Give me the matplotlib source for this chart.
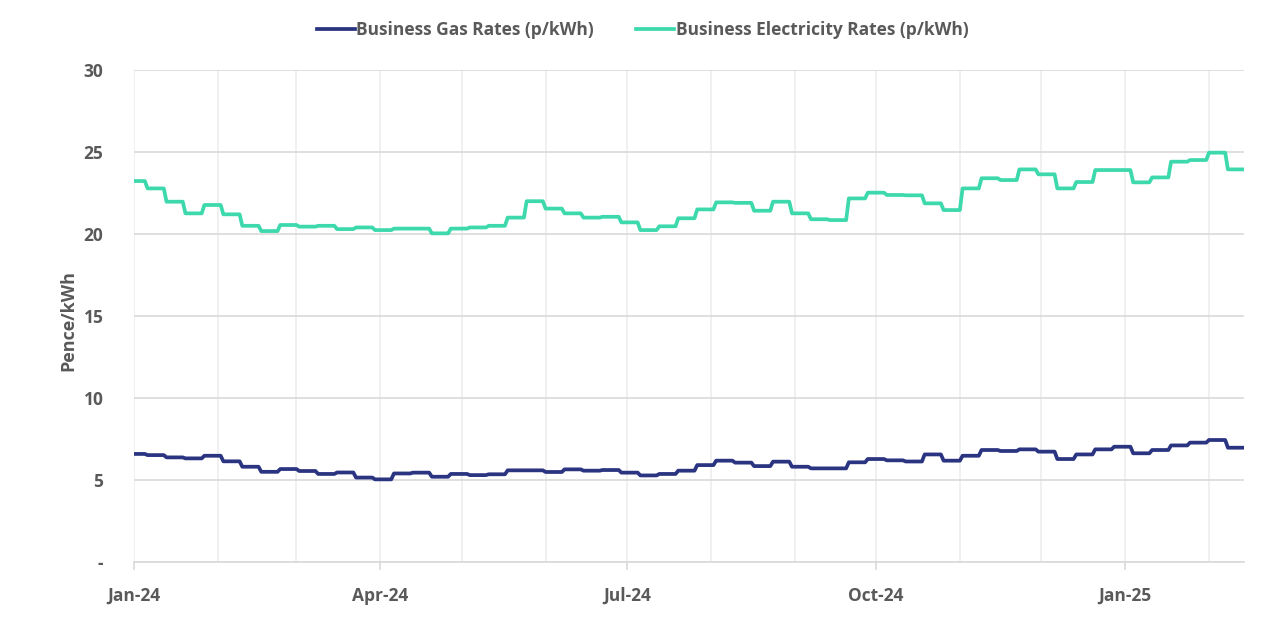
import numpy as np
import pandas as pd
import matplotlib
matplotlib.use("Agg")
import matplotlib.pyplot as plt
import matplotlib.dates as mdates
from matplotlib.ticker import FuncFormatter

# weekly price changes (Saturdays), held flat for the rest of the week
week_start = "2023-12-30"
n_weeks = 59
end_day = "2025-02-14"

gas = [6.59, 6.52, 6.38, 6.32, 6.48, 6.14, 5.81, 5.50, 5.67, 5.55,
       5.37, 5.46, 5.15, 5.04, 5.40, 5.45, 5.20, 5.37, 5.30, 5.35,
       5.59, 5.59, 5.49, 5.65, 5.57, 5.61, 5.45, 5.28, 5.37, 5.57,
       5.91, 6.18, 6.06, 5.85, 6.12, 5.81, 5.71, 5.71, 6.08, 6.28,
       6.20, 6.13, 6.56, 6.18, 6.48, 6.83, 6.77, 6.87, 6.73, 6.28,
       6.56, 6.87, 7.03, 6.63, 6.83, 7.11, 7.28, 7.44, 6.97]

elec = [23.23, 22.78, 21.97, 21.26, 21.77, 21.20, 20.50, 20.18, 20.55, 20.45,
        20.50, 20.30, 20.40, 20.24, 20.33, 20.33, 20.04, 20.33, 20.40, 20.50,
        21.00, 22.00, 21.55, 21.26, 21.00, 21.05, 20.71, 20.24, 20.47, 20.96,
        21.50, 21.93, 21.90, 21.42, 21.97, 21.26, 20.90, 20.85, 22.17, 22.52,
        22.38, 22.36, 21.87, 21.46, 22.78, 23.40, 23.29, 23.94, 23.64, 22.78,
        23.17, 23.90, 23.90, 23.15, 23.45, 24.41, 24.51, 24.96, 23.94]

weeks = pd.date_range(week_start, periods=n_weeks, freq="7D")
df = pd.DataFrame({"gas": gas, "elec": elec}, index=weeks)
daily = df.reindex(pd.date_range(week_start, end_day, freq="D")).ffill()
daily = daily.loc["2024-01-01":]

gas_col = "#2b3481"
elec_col = "#3dd9ad"
txt_col = "#595959"

fig = plt.figure(figsize=(12.8, 6.37), dpi=100)
ax = fig.add_axes([0.1047, 0.1177, 0.8673, 0.7724])

ax.plot(daily.index, daily["gas"], color=gas_col, lw=2.7,
        label="Business Gas Rates (p/kWh)", solid_joinstyle="round")
ax.plot(daily.index, daily["elec"], color=elec_col, lw=2.7,
        label="Business Electricity Rates (p/kWh)", solid_joinstyle="round")

ax.set_xlim(daily.index[0], daily.index[-1])
ax.set_ylim(0, 30)
ax.set_yticks([0, 5, 10, 15, 20, 25, 30])
ax.yaxis.set_major_formatter(FuncFormatter(lambda v, p: "-" if v == 0 else f"{v:.0f}"))

ax.xaxis.set_major_locator(mdates.MonthLocator(bymonth=[1, 4, 7, 10]))
ax.xaxis.set_major_formatter(mdates.DateFormatter("%b-%y"))
ax.xaxis.set_minor_locator(mdates.MonthLocator())

ax.grid(axis="y", color="#d9d9d9", lw=1.2)
ax.grid(axis="x", which="both", color="#eeeeee", lw=1.2)
ax.set_axisbelow(True)

for s in ["top", "right", "left"]:
    ax.spines[s].set_visible(False)
ax.spines["bottom"].set_color("#d9d9d9")
ax.spines["bottom"].set_linewidth(1.2)

ax.tick_params(axis="y", length=0, pad=22, labelsize=12.5, labelcolor=txt_col)
ax.tick_params(axis="x", which="major", length=6, color="#d9d9d9", width=1.2,
               pad=12, labelsize=12.5, labelcolor=txt_col)
ax.tick_params(axis="x", which="minor", length=0)
for lab in ax.get_xticklabels() + ax.get_yticklabels():
    lab.set_fontfamily("Open Sans")
    lab.set_fontweight("bold")

ax.set_ylabel("Pence/kWh", fontsize=13, fontweight="bold", color=txt_col,
              family="Open Sans", labelpad=3)
ax.yaxis.set_label_coords(-0.051, 0.49)

leg = fig.legend(loc="upper center", bbox_to_anchor=(0.502, 0.991), ncol=2,
                 frameon=False, handlelength=2.2, handletextpad=0.1,
                 columnspacing=2.4,
                 prop={"family": "Open Sans", "weight": "bold", "size": 12.5})
for t in leg.get_texts():
    t.set_color(txt_col)

fig.savefig("out.png", dpi=100)
